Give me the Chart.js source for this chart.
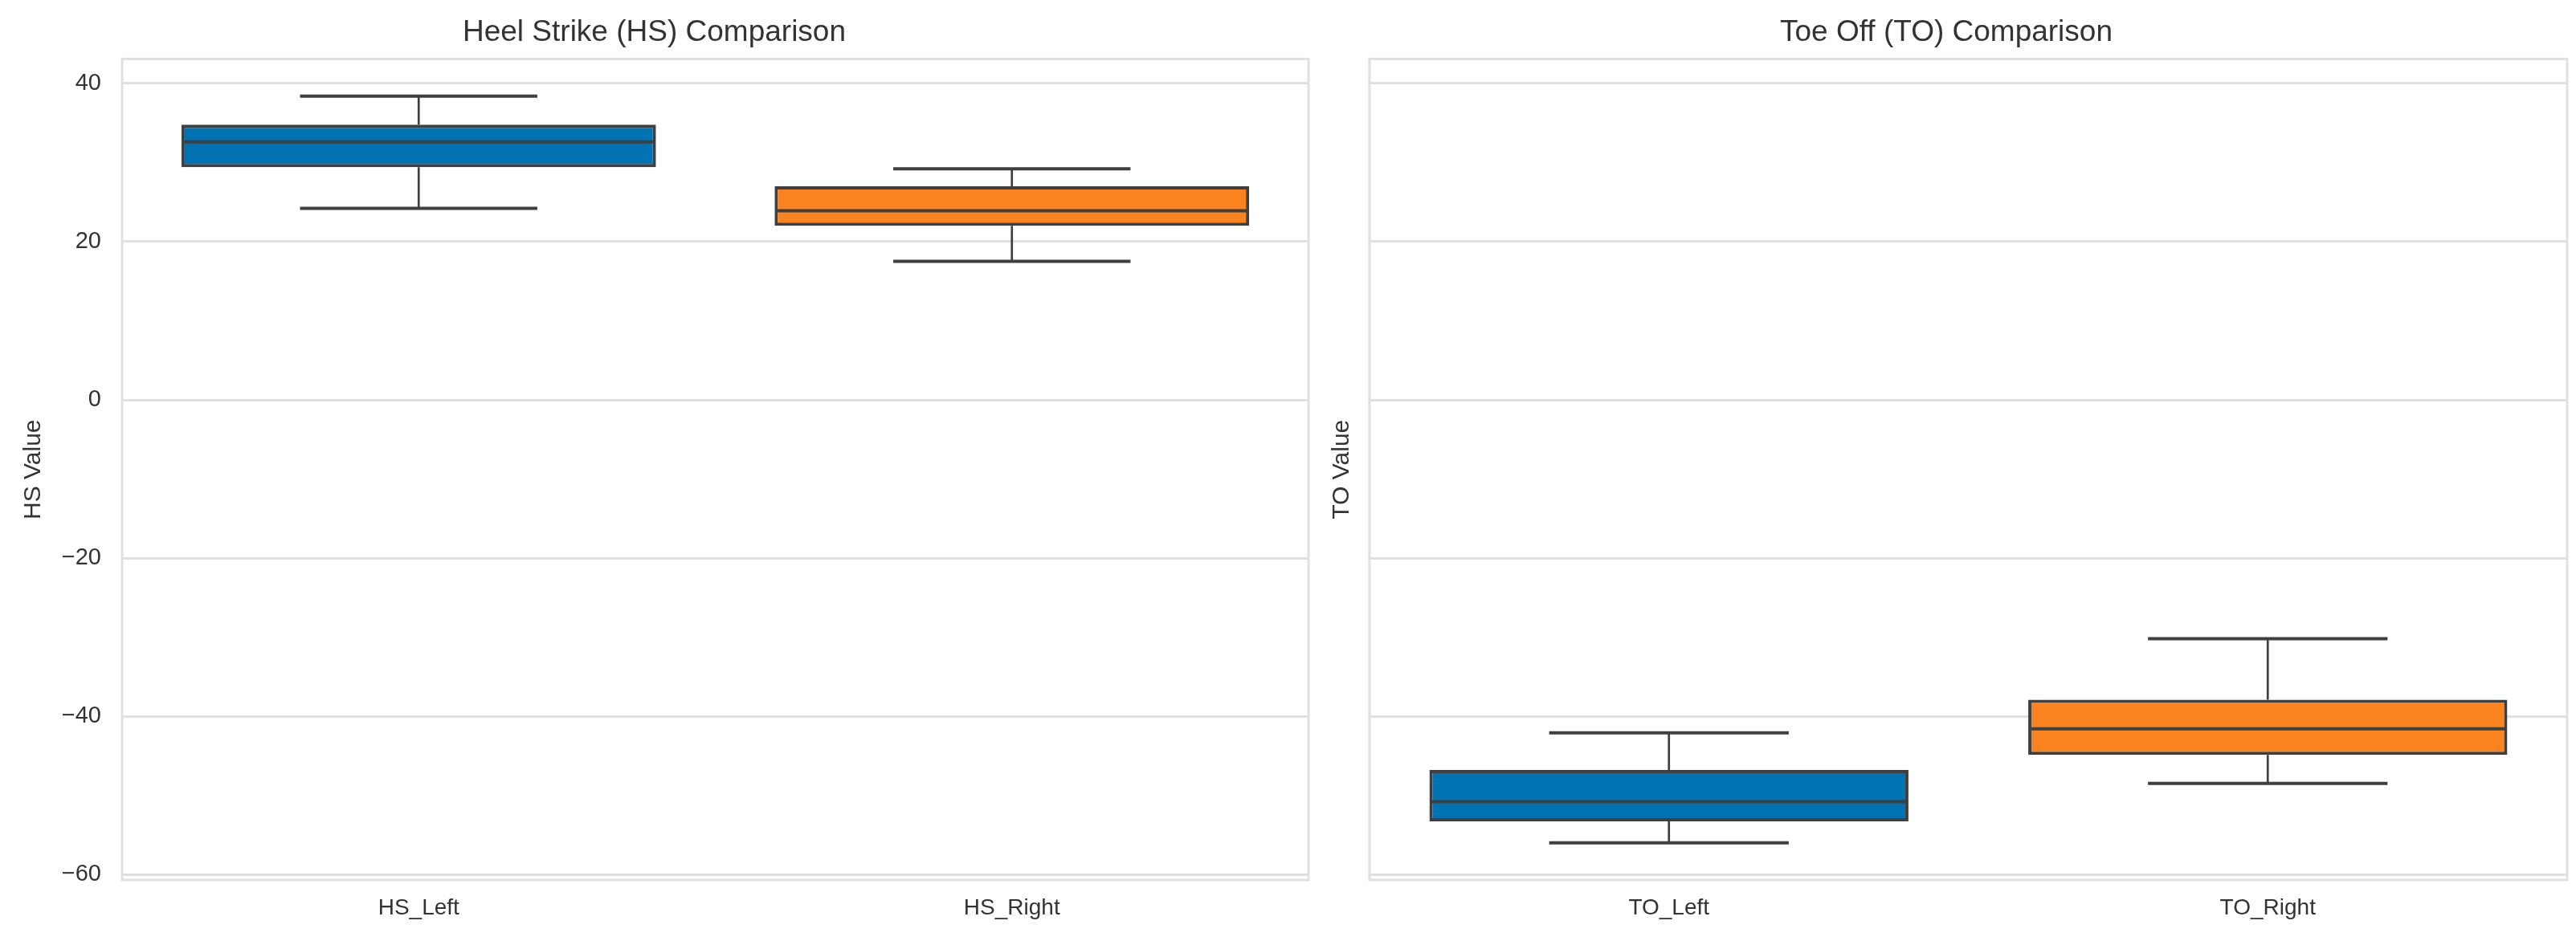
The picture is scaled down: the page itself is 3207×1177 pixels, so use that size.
<!DOCTYPE html>
<html>
<head>
<meta charset="utf-8">
<script src="https://cdn.jsdelivr.net/npm/chart.js@4.4.1/dist/chart.umd.min.js"></script>
<style>
html,body{margin:0;padding:0;background:#fff;overflow:hidden;width:3207px;height:1177px}
canvas{position:absolute;top:0}
#c1{left:0}
#c2{left:1650px}
</style>
</head>
<body>
<canvas id="c1" width="1650" height="1177"></canvas>
<canvas id="c2" width="1557" height="1177"></canvas>
<script>
// ---- data ----
const hsCategories = ['HS_Left', 'HS_Right'];
const hsMin    = [24.2, 17.5];
const hsQ1     = [29.4, 22.0];
const hsMedian = [32.6, 23.9];
const hsQ3     = [34.8, 27.0];
const hsMax    = [38.4, 29.2];

const toCategories = ['TO_Left', 'TO_Right'];
const toMin    = [-56.0, -48.5];
const toQ1     = [-53.3, -44.9];
const toMedian = [-50.8, -41.6];
const toQ3     = [-46.8, -37.9];
const toMax    = [-42.1, -30.2];

const yTicks      = [-60, -40, -20, 0, 20, 40];
const yTickLabels = ['\u221260', '\u221240', '\u221220', '0', '20', '40'];
const yLimits     = [-60.7, 43.1];

// ---- styles ----
const boxColors = ['#0173b2', '#fa831f'];
const edgeColor = '#3f3f3f';
const gridColor = '#e0e0e0';
const textColor = '#333333';
const fontFamily = '"Liberation Sans", Arial, Helvetica, sans-serif';

const boxPlugin = {
  id: 'boxWhiskers',
  beforeDatasetsDraw(chart) {
    const {ctx, chartArea: a} = chart;
    ctx.save();
    ctx.strokeStyle = gridColor;
    ctx.lineWidth = 3;
    ctx.strokeRect(a.left, a.top, a.right - a.left, a.bottom - a.top);
    ctx.restore();
  },
  afterDatasetsDraw(chart, args, opts) {
    const {ctx} = chart;
    const y = chart.scales.y;
    const meta = chart.getDatasetMeta(0);
    const q = chart.data.datasets[0].data;
    ctx.save();
    ctx.strokeStyle = edgeColor;
    meta.data.forEach((bar, i) => {
      const cx = bar.x;
      const half = bar.width / 2;
      const capHalf = bar.width / 4;
      const pMin = y.getPixelForValue(opts.min[i]);
      const pMax = y.getPixelForValue(opts.max[i]);
      const pQ1 = y.getPixelForValue(q[i][0]);
      const pQ3 = y.getPixelForValue(q[i][1]);
      const pMed = y.getPixelForValue(opts.median[i]);
      // whiskers
      ctx.lineWidth = 2.7;
      ctx.beginPath();
      ctx.moveTo(cx, pQ3); ctx.lineTo(cx, pMax);
      ctx.moveTo(cx, pQ1); ctx.lineTo(cx, pMin);
      ctx.stroke();
      // caps
      ctx.lineWidth = 4;
      ctx.beginPath();
      ctx.moveTo(cx - capHalf, pMax); ctx.lineTo(cx + capHalf, pMax);
      ctx.moveTo(cx - capHalf, pMin); ctx.lineTo(cx + capHalf, pMin);
      ctx.stroke();
      // median
      ctx.beginPath();
      ctx.moveTo(cx - half + 2, pMed); ctx.lineTo(cx + half - 2, pMed);
      ctx.stroke();
    });
    ctx.restore();
  }
};

function makeChart(id, cats, q1, q3, med, mn, mx, title, yTitle, showTickLabels, yWidth, yTitlePad, rightPad) {
  return new Chart(document.getElementById(id), {
    type: 'bar',
    data: {
      labels: cats,
      datasets: [{
        data: cats.map((c, i) => [q1[i], q3[i]]),
        backgroundColor: boxColors,
        borderColor: edgeColor,
        borderWidth: 4,
        borderSkipped: false,
        barPercentage: 0.8,
        categoryPercentage: 1.0
      }]
    },
    options: {
      responsive: false,
      devicePixelRatio: 1,
      animation: false,
      layout: {padding: {left: 0, right: rightPad, top: 0, bottom: 0}},
      plugins: {
        legend: {display: false},
        tooltip: {enabled: false},
        title: {
          display: true,
          text: title,
          color: textColor,
          font: {family: fontFamily, size: 37, weight: 'normal'},
          padding: {top: 19, bottom: 10}
        },
        boxWhiskers: {min: mn, max: mx, median: med}
      },
      scales: {
        x: {
          type: 'category',
          offset: true,
          grid: {display: false, drawTicks: false},
          border: {display: false},
          ticks: {color: textColor, font: {family: fontFamily, size: 28}, padding: 18},
          afterFit: s => { s.height = 81; }
        },
        y: {
          type: 'linear',
          min: yLimits[0],
          max: yLimits[1],
          afterBuildTicks: s => { s.ticks = yTicks.map(v => ({value: v})); },
          grid: {color: gridColor, lineWidth: 3, drawTicks: false},
          border: {display: false},
          ticks: {
            display: showTickLabels,
            color: textColor,
            font: {family: fontFamily, size: 29},
            padding: 26,
            callback: (v) => { const k = yTicks.indexOf(v); return k >= 0 ? yTickLabels[k] : ''; }
          },
          title: {
            display: true,
            text: yTitle,
            color: textColor,
            font: {family: fontFamily, size: 30},
            padding: {top: yTitlePad, bottom: 0}
          },
          afterFit: s => { s.width = yWidth; }
        }
      }
    },
    plugins: [boxPlugin]
  });
}

makeChart('c1', hsCategories, hsQ1, hsQ3, hsMedian, hsMin, hsMax,
  'Heel Strike (HS) Comparison', 'HS Value', true, 152, 24, 21);
makeChart('c2', toCategories, toQ1, toQ3, toMedian, toMin, toMax,
  'Toe Off (TO) Comparison', 'TO Value', false, 55, 3, 11);
</script>
</body>
</html>
